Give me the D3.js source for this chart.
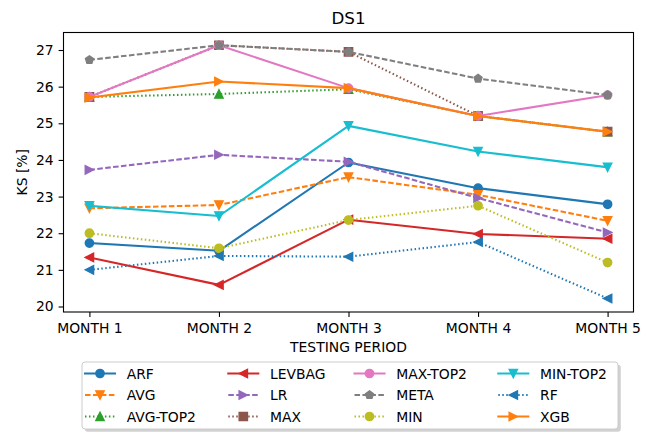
<!DOCTYPE html>
<html>
<head>
<meta charset="utf-8">
<script src="https://cdn.jsdelivr.net/npm/d3@7"></script>
<style>
  body { margin: 0; background: #fff; }
  svg { display: block; font-family: "DejaVu Sans", sans-serif; }
</style>
</head>
<body>
<svg id="chart" width="652" height="433"></svg>
<script>
const months = ["MONTH 1", "MONTH 2", "MONTH 3", "MONTH 4", "MONTH 5"];
const yTicks = [20, 21, 22, 23, 24, 25, 26, 27];

// KS [%] per month
const arf     = [21.73, 21.52, 23.93, 23.23, 22.79];
const avg     = [22.68, 22.77, 23.53, 23.05, 22.34];
const avgTop2 = [25.72, 25.80, 25.93, 25.20, 24.77];
const levbag  = [21.34, 20.59, 22.37, 21.98, 21.85];
const lr      = [23.73, 24.14, 23.95, 22.96, 22.02];
const max     = [25.72, 27.13, 26.95, 25.20, 24.77];
const maxTop2 = [25.72, 27.13, 25.96, 25.20, 25.77];
const meta    = [26.73, 27.13, 26.95, 26.22, 25.77];
const min     = [22.00, 21.59, 22.36, 22.75, 21.20];
const minTop2 = [22.75, 22.47, 24.93, 24.23, 23.80];
const rf      = [21.00, 21.38, 21.36, 21.76, 20.22];
const xgb     = [25.70, 26.14, 25.96, 25.20, 24.77];

const seriesNames = ["ARF", "AVG", "AVG-TOP2", "LEVBAG", "LR", "MAX",
                     "MAX-TOP2", "META", "MIN", "MIN-TOP2", "RF", "XGB"];
const seriesValues = [arf, avg, avgTop2, levbag, lr, max,
                      maxTop2, meta, min, minTop2, rf, xgb];

// line styles (matplotlib look)
const styles = {
  "ARF":      { color: "#1f77b4", marker: "o", dash: null },
  "AVG":      { color: "#ff7f0e", marker: "v", dash: "dashed" },
  "AVG-TOP2": { color: "#2ca02c", marker: "^", dash: "dotted" },
  "LEVBAG":   { color: "#d62728", marker: "<", dash: null },
  "LR":       { color: "#9467bd", marker: ">", dash: "dashed" },
  "MAX":      { color: "#8c564b", marker: "s", dash: "dotted" },
  "MAX-TOP2": { color: "#e377c2", marker: "o", dash: null },
  "META":     { color: "#7f7f7f", marker: "p", dash: "dashed" },
  "MIN":      { color: "#bcbd22", marker: "o", dash: "dotted" },
  "MIN-TOP2": { color: "#17becf", marker: "v", dash: null },
  "RF":       { color: "#1f77b4", marker: "<", dash: "dotted" },
  "XGB":      { color: "#ff7f0e", marker: ">", dash: null }
};
const dashArrays = { dashed: "5.55,2.4", dotted: "1.5,2.48" };

const svg = d3.select("#chart");
const plot = { left: 63.5, right: 633.5, top: 32.5, bottom: 312 };
const fontSize = 13.9;
const lw = 2.08;
const ms = 4.17; // half marker size

const x = d3.scalePoint()
  .domain(months)
  .range([plot.left, plot.right])
  .padding(0.2);

const y = d3.scaleLinear()
  .domain([19.85, 27.478])
  .range([plot.bottom, plot.top]);

function markerPath(type, r) {
  if (type === "o") {
    const p = d3.path();
    p.arc(0, 0, r, 0, 2 * Math.PI);
    p.closePath();
    return p.toString();
  }
  if (type === "v") return `M0,${r}L${-r},${-r}L${r},${-r}Z`;
  if (type === "^") return `M0,${-r}L${-r},${r}L${r},${r}Z`;
  if (type === "<") return `M${-r},0L${r},${-r}L${r},${r}Z`;
  if (type === ">") return `M${r},0L${-r},${-r}L${-r},${r}Z`;
  if (type === "s") return `M${-r},${-r}L${r},${-r}L${r},${r}L${-r},${r}Z`;
  if (type === "p") {
    const pts = d3.range(5).map(i => {
      const a = -Math.PI / 2 + i * 2 * Math.PI / 5;
      return [r * Math.cos(a), r * Math.sin(a)];
    });
    return "M" + pts.map(p => p.join(",")).join("L") + "Z";
  }
}

// axes
const xAxis = svg.append("g")
  .attr("transform", `translate(0,${plot.bottom})`)
  .call(d3.axisBottom(x).tickSize(4.9));
xAxis.select(".domain").remove();
xAxis.selectAll("text")
  .attr("y", 20.7).attr("dy", null)
  .attr("fill", "#000")
  .style("font-size", fontSize + "px")
  .style("font-family", "DejaVu Sans");
xAxis.selectAll("line").attr("stroke", "#000").attr("stroke-width", 1.1);

const yAxis = svg.append("g")
  .attr("transform", `translate(${plot.left},0)`)
  .call(d3.axisLeft(y).tickValues(yTicks).tickSize(4.9).tickPadding(5));
yAxis.select(".domain").remove();
yAxis.selectAll("text")
  .attr("fill", "#000")
  .style("font-size", fontSize + "px")
  .style("font-family", "DejaVu Sans");
yAxis.selectAll("line").attr("stroke", "#000").attr("stroke-width", 1.1);

// series, drawn in legend order so XGB ends up on top
const line = d3.line()
  .x((d, i) => x(months[i]))
  .y(d => y(d));

seriesNames.forEach((name, k) => {
  const st = styles[name];
  const vals = seriesValues[k];
  const g = svg.append("g");
  g.append("path")
    .attr("d", line(vals))
    .attr("fill", "none")
    .attr("stroke", st.color)
    .attr("stroke-width", lw)
    .attr("stroke-linejoin", "round")
    .attr("stroke-linecap", st.dash ? "butt" : "square")
    .attr("stroke-dasharray", st.dash ? dashArrays[st.dash] : null);
  g.selectAll("path.mk")
    .data(vals)
    .enter()
    .append("path")
    .attr("class", "mk")
    .attr("transform", (d, i) => `translate(${x(months[i])},${y(d)})`)
    .attr("d", markerPath(st.marker, ms))
    .attr("fill", st.color)
    .attr("stroke", st.color)
    .attr("stroke-width", 1.39);
});

// frame
svg.append("rect")
  .attr("x", plot.left).attr("y", plot.top)
  .attr("width", plot.right - plot.left)
  .attr("height", plot.bottom - plot.top)
  .attr("fill", "none")
  .attr("stroke", "#000")
  .attr("stroke-width", 1.1);

// titles
svg.append("text")
  .attr("x", (plot.left + plot.right) / 2)
  .attr("y", 24)
  .attr("text-anchor", "middle")
  .style("font-size", "16.7px")
  .text("DS1");

svg.append("text")
  .attr("x", (plot.left + plot.right) / 2)
  .attr("y", 352)
  .attr("text-anchor", "middle")
  .style("font-size", fontSize + "px")
  .text("TESTING PERIOD");

svg.append("text")
  .attr("transform", `translate(26.5,${(plot.top + plot.bottom) / 2}) rotate(-90)`)
  .attr("text-anchor", "middle")
  .style("font-size", fontSize + "px")
  .text("KS [%]");

// legend
const lg = { x: 82, y: 362, w: 536, h: 67 };
svg.append("rect")
  .attr("x", lg.x + 2.8).attr("y", lg.y + 2.8)
  .attr("width", lg.w).attr("height", lg.h)
  .attr("rx", 3)
  .attr("fill", "#000").attr("fill-opacity", 0.18);
svg.append("rect")
  .attr("x", lg.x).attr("y", lg.y)
  .attr("width", lg.w).attr("height", lg.h)
  .attr("rx", 3)
  .attr("fill", "#fff")
  .attr("stroke", "#ccc")
  .attr("stroke-width", 1);

const colX = [85, 228.3, 354.5, 498.3];
const rowY = [373.5, 395, 416.5];

seriesNames.forEach((name, k) => {
  const st = styles[name];
  const cx = colX[Math.floor(k / 3)];
  const cy = rowY[k % 3];
  const item = svg.append("g");
  item.append("line")
    .attr("x1", cx).attr("x2", cx + 30)
    .attr("y1", cy).attr("y2", cy)
    .attr("stroke", st.color)
    .attr("stroke-width", lw)
    .attr("stroke-linecap", st.dash ? "butt" : "square")
    .attr("stroke-dasharray", st.dash ? dashArrays[st.dash] : null);
  item.append("path")
    .attr("transform", `translate(${cx + 15},${cy})`)
    .attr("d", markerPath(st.marker, ms))
    .attr("fill", st.color)
    .attr("stroke", st.color)
    .attr("stroke-width", 1.39);
  item.append("text")
    .attr("x", cx + 41.7)
    .attr("y", cy)
    .attr("dy", "0.36em")
    .style("font-size", fontSize + "px")
    .text(name);
});
</script>
</body>
</html>
